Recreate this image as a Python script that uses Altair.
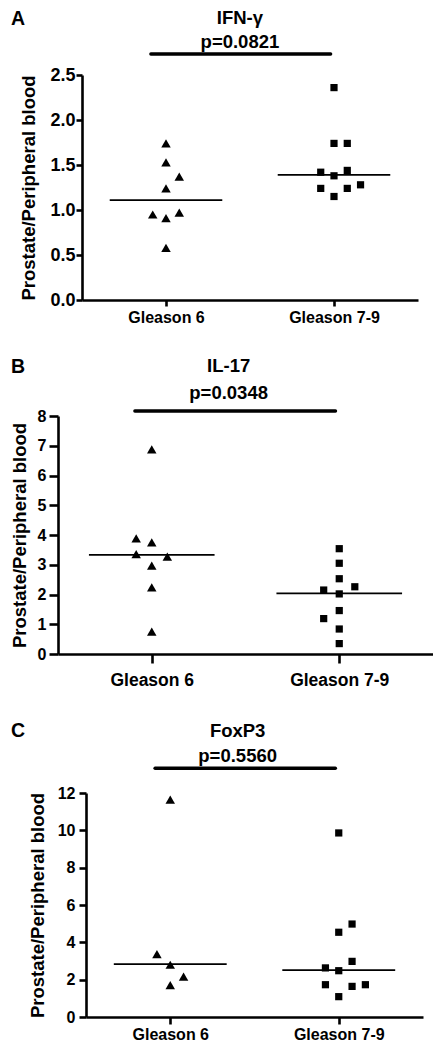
import altair as alt
import pandas as pd

FONT = "Liberation Sans"

groups = ["Gleason 6", "Gleason 7-9"]
letters = ["A", "B", "C"]
titles = ["IFN-γ", "IL-17", "FoxP3"]
p_labels = ["p=0.0821", "p=0.0348", "p=0.5560"]
y_title = "Prostate/Peripheral blood"

# Panel A: IFN-γ
ifn_g6 = [1.74, 1.53, 1.37, 1.24, 0.95, 0.97, 0.91, 0.58]
ifn_g6_slot = [0, 0, 1, 0, -1, 1, 0, 0]
ifn_g79 = [2.36, 1.74, 1.74, 1.42, 1.44, 1.38, 1.28, 1.24, 1.24, 1.15]
ifn_g79_slot = [0, 0, 1, -1, 1, 0, 2, -1, 1, 0]
ifn_median = [1.11, 1.39]
ifn_ticks = [0.0, 0.5, 1.0, 1.5, 2.0, 2.5]

# Panel B: IL-17
il17_g6 = [6.88, 3.89, 3.75, 3.36, 3.27, 2.97, 2.24, 0.75]
il17_g6_slot = [0, -1, 0, -1, 1, 0, 0, 0]
il17_g79 = [3.54, 3.05, 2.53, 2.26, 2.15, 2.02, 1.46, 1.19, 0.84, 0.35]
il17_g79_slot = [0, 0, 0, 1, -1, 0, 0, -1, 0, 0]
il17_median = [3.33, 2.04]
il17_ticks = [0, 1, 2, 3, 4, 5, 6, 7, 8]

# Panel C: FoxP3
foxp3_g6 = [11.64, 3.37, 2.80, 2.16, 1.71]
foxp3_g6_slot = [0, -1, 0, 1, 0]
foxp3_g79 = [9.86, 4.98, 4.54, 2.98, 2.63, 2.48, 1.73, 1.64, 1.73, 1.09]
foxp3_g79_slot = [0, 1, 0, 1, -1, 0, -1, 1, 2, 0]
foxp3_median = [2.83, 2.51]
foxp3_ticks = [0, 2, 4, 6, 8, 10, 12]

label_expr = f"datum.value < 1 ? '{groups[0]}' : '{groups[1]}'"


def make_panel(idx, g6, s6, g79, s79, med, yticks, yfmt, L):
    rows = []
    for gi, (vals, slots) in enumerate([(g6, s6), (g79, s79)]):
        for v, s in zip(vals, slots):
            rows.append({"group": groups[gi], "gi": gi, "value": v, "slot": s})
    pts = pd.DataFrame(rows)
    meds = pd.DataFrame({"group": groups, "gi": [0, 1], "value": med})
    one = pd.DataFrame({"k": [0]})

    off = L["offset"]
    xscale = alt.Scale(domain=[0, 2], nice=False, zero=False, range=[-off, L["xend"]])
    yscale = alt.Scale(domain=[yticks[0], yticks[-1]], nice=False, zero=True)

    xaxis = alt.Axis(values=[0.5, 1.5], labelExpr=label_expr, title=None, grid=False,
                     domainColor="black", domainWidth=2.6, tickColor="black", tickWidth=2.6,
                     tickSize=L["xtick"], labelPadding=L["xpad"], labelFont=FONT,
                     labelFontSize=L["xfs"], labelFontWeight="bold", labelColor="black",
                     labelOverlap=False, labelFlush=False)
    yaxis = alt.Axis(values=yticks, format=yfmt, title=y_title, grid=False, offset=off,
                     labelOverlap=False, labelFlush=False,
                     domainColor="black", domainWidth=2.6, tickColor="black", tickWidth=2.6,
                     tickSize=L["ytick"], labelPadding=L["ypad"], labelFont=FONT,
                     labelFontSize=L["yfs"], labelFontWeight="bold", labelColor="black",
                     titleFont=FONT, titleFontSize=18.5, titleFontWeight="bold",
                     titleColor="black", titlePadding=L["tpad"])

    points = alt.Chart(pts).transform_calculate(
        xpos=f"datum.gi + 0.5 + datum.slot * {L['step']}"
    ).mark_point(filled=True, opacity=1, color="black").encode(
        x=alt.X("xpos:Q", scale=xscale, axis=xaxis, title=None),
        y=alt.Y("value:Q", scale=yscale, axis=yaxis, title=y_title),
        shape=alt.Shape("group:N", scale=alt.Scale(domain=groups, range=["triangle-up", "square"]), legend=None),
        size=alt.Size("group:O", scale=alt.Scale(domain=groups, range=[90, 52]), legend=None),
    )

    medians = alt.Chart(meds).transform_calculate(
        xpos="datum.gi + 0.5 - 0.335", x2="datum.gi + 0.5 + 0.335"
    ).mark_rule(color="black", strokeWidth=1.8).encode(
        x=alt.X("xpos:Q", scale=xscale, axis=xaxis, title=None), x2="x2:Q",
        y=alt.Y("value:Q", scale=yscale, axis=yaxis, title=y_title)
    )

    bar = alt.Chart(one).mark_rule(color="black", strokeWidth=3.4, strokeCap="round").encode(
        x=alt.XDatum(0.41, type="quantitative", scale=xscale, axis=xaxis, title=None),
        x2=alt.X2Datum(1.48),
        y=alt.value(L["by"]),
    )

    def txt(text, x, y, size, align="center"):
        return alt.Chart(one).mark_text(
            font=FONT, fontWeight="bold", fontSize=size, color="black",
            align=align, baseline="alphabetic"
        ).encode(x=x, y=alt.value(y), text=alt.value(text))

    def xd(v):
        return alt.XDatum(v, type="quantitative", scale=xscale, axis=xaxis, title=None)

    letter = txt(letters[idx], alt.value(-75), L["ly"], 19.5, align="left")
    title = txt(titles[idx], xd(L["tx"]), L["ty"], 18.5)
    ptext = txt(p_labels[idx], xd(L["tx"]), L["py"], 18.5)

    top_spacer = alt.Chart(one).mark_text(fontSize=1, baseline="top", align="left").encode(
        x=alt.value(-78), y=alt.value(-L["top"]), text=alt.value(" "))
    layers = [points, medians, bar, letter, title, ptext, top_spacer]
    if L["bottom"] > 0:
        bottom_spacer = alt.Chart(one).mark_text(fontSize=1, baseline="bottom", align="left").encode(
            x=alt.value(0), y=alt.value(L["height"] + L["bottom"]), text=alt.value(" "))
        layers.append(bottom_spacer)

    return alt.layer(*layers).properties(width=L["xend"], height=L["height"])


LA = dict(offset=4, xend=332, height=225, step=0.079, ly=-50.5, tx=0.94, ty=-51.5,
          py=-27.0, by=-21, yfs=18, xfs=16, ytick=6, ypad=1, xtick=6, xpad=3, tpad=11,
          top=66, bottom=28)
LB = dict(offset=28, xend=347, height=238, step=0.083, ly=-43.3, tx=0.91, ty=-43.7,
          py=-17, by=-5, yfs=16, xfs=17.5, ytick=9, ypad=3, xtick=9, xpad=8, tpad=8,
          top=88, bottom=37)
LC = dict(offset=0, xend=337, height=224, step=0.079, ly=-56, tx=0.90, ty=-56,
          py=-30.7, by=-24.7, yfs=16, xfs=16, ytick=7, ypad=4, xtick=7, xpad=2, tpad=10,
          top=102, bottom=0)

pa = make_panel(0, ifn_g6, ifn_g6_slot, ifn_g79, ifn_g79_slot, ifn_median, ifn_ticks, ".1f", LA)
pb = make_panel(1, il17_g6, il17_g6_slot, il17_g79, il17_g79_slot, il17_median, il17_ticks, "d", LB)
pc = make_panel(2, foxp3_g6, foxp3_g6_slot, foxp3_g79, foxp3_g79_slot, foxp3_median, foxp3_ticks, "d", LC)

chart = alt.vconcat(pa, pb, pc, spacing=0).properties(
    padding={"left": 0, "top": 0, "right": -28, "bottom": 0},
    background="white",
).configure_view(stroke=None)

chart.save("out.html", embed_options={"renderer": "svg", "actions": False})
